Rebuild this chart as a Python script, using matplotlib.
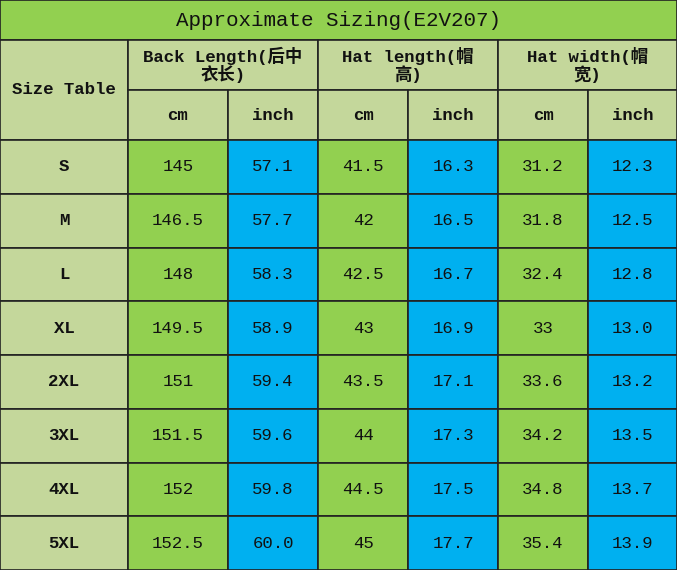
import matplotlib
matplotlib.use("Agg")
import matplotlib.pyplot as plt
from matplotlib.patches import Rectangle

title = "Approximate Sizing(E2V207)"
corner = "Size Table"
groups = ["Back Length(后中\n衣长)", "Hat length(帽\n高)", "Hat width(帽\n宽)"]
units = ["cm", "inch"]
sizes = ["S", "M", "L", "XL", "2XL", "3XL", "4XL", "5XL"]
back_cm = ["145", "146.5", "148", "149.5", "151", "151.5", "152", "152.5"]
back_in = ["57.1", "57.7", "58.3", "58.9", "59.4", "59.6", "59.8", "60.0"]
hatl_cm = ["41.5", "42", "42.5", "43", "43.5", "44", "44.5", "45"]
hatl_in = ["16.3", "16.5", "16.7", "16.9", "17.1", "17.3", "17.5", "17.7"]
hatw_cm = ["31.2", "31.8", "32.4", "33", "33.6", "34.2", "34.8", "35.4"]
hatw_in = ["12.3", "12.5", "12.8", "13.0", "13.2", "13.5", "13.7", "13.9"]
columns = [back_cm, back_in, hatl_cm, hatl_in, hatw_cm, hatw_in]

W, H = 677, 570
fig = plt.figure(figsize=(W/100, H/100), dpi=100)
ax = fig.add_axes([0, 0, 1, 1])
ax.set_xlim(0, W); ax.set_ylim(H, 0); ax.axis("off")

FAM = ["Liberation Mono", "Noto Sans CJK SC", "DejaVu Sans"]
TITLE_BG = "#92D050"; HEAD_BG = "#C4D79B"; GREEN = "#92D050"; BLUE = "#00B0F0"
xs = [0, 128, 228, 318, 408, 498, 588, 677]
y_title, y_h1, y_h2, y_d = 0, 40, 90, 140
row_h = (H - y_d) / len(sizes)

def cell(x0, y0, x1, y1, fc, txt=None, bold=False, size=12.5):
    ax.add_patch(Rectangle((x0, y0), x1-x0, y1-y0, facecolor=fc, edgecolor="#222222", lw=1.2))
    if txt is not None:
        ax.text((x0+x1)/2, (y0+y1)/2, txt, ha="center", va="center", family=FAM,
                fontsize=size, fontweight="bold" if bold else "normal", color="#111111",
                linespacing=1.0)

cell(0, y_title, W, y_h1, TITLE_BG, title, size=15)
cell(0, y_h1, xs[1], y_d, HEAD_BG, corner, bold=True)
for g, name in enumerate(groups):
    cell(xs[1+2*g], y_h1, xs[3+2*g], y_h2, HEAD_BG, name, bold=True)
    for u in range(2):
        cell(xs[1+2*g+u], y_h2, xs[2+2*g+u], y_d, HEAD_BG, units[u], bold=True)
for i, s in enumerate(sizes):
    y0 = y_d + i*row_h; y1 = y0 + row_h
    cell(0, y0, xs[1], y1, HEAD_BG, s, bold=True)
    for j, col in enumerate(columns):
        cell(xs[1+j], y0, xs[2+j], y1, GREEN if j % 2 == 0 else BLUE, col[i])

fig.savefig("out.png", dpi=100)
